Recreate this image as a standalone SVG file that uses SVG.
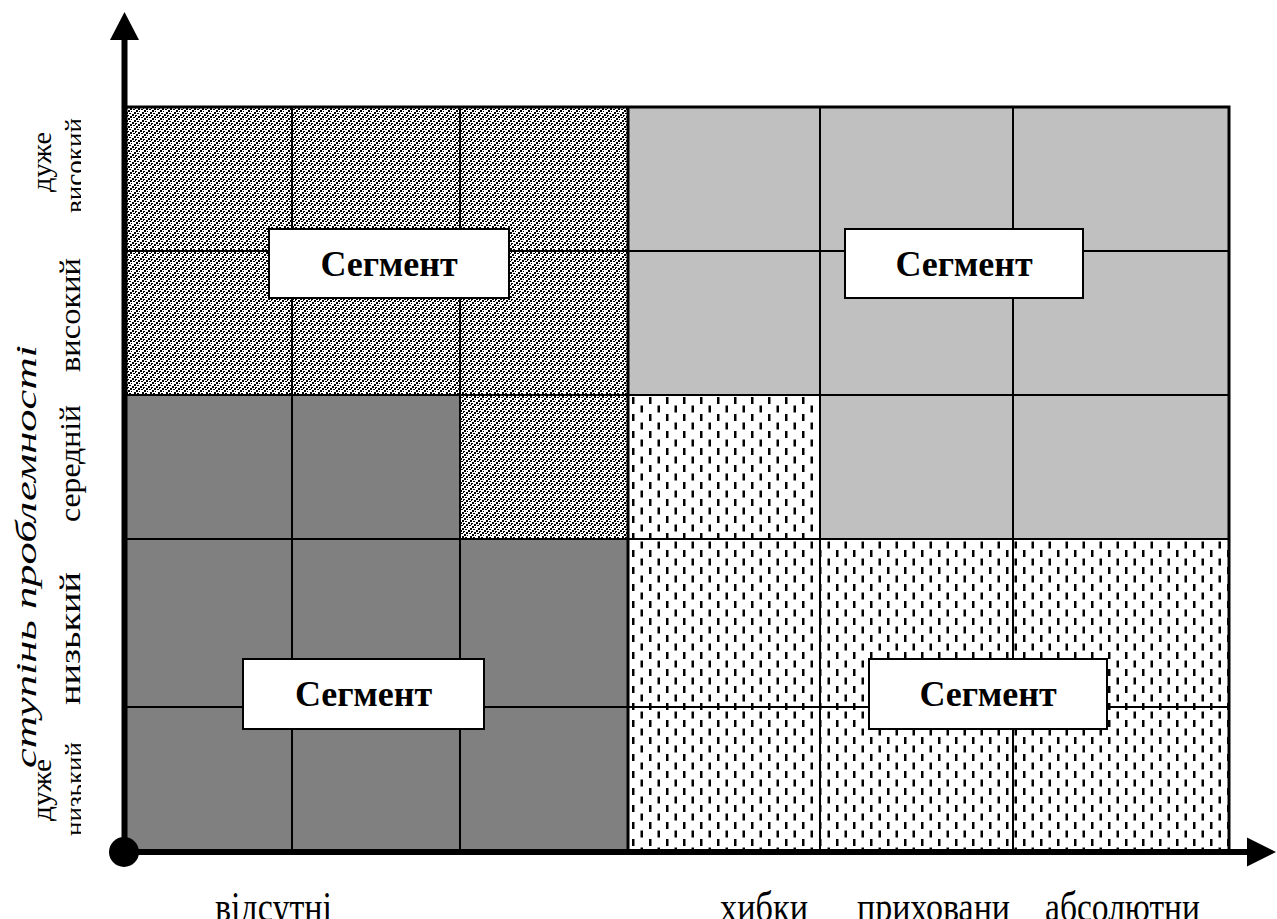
<svg xmlns="http://www.w3.org/2000/svg" width="1277" height="919" viewBox="0 0 1277 919">
<style>
.lbl{font-family:"Liberation Serif","Times New Roman",serif;font-size:28px;fill:#000}
.big{font-size:30px}
.xl{font-size:42px}
.ttl{font-family:"Liberation Serif","Times New Roman",serif;font-size:30px;font-style:italic;fill:#000}
.seg{font-family:"Liberation Serif","Times New Roman",serif;font-size:36px;font-weight:bold;fill:#000;text-anchor:middle}
.box{fill:#fff;stroke:#000;stroke-width:2}
.grid{stroke:#000;stroke-width:2;fill:none}
</style>
<defs>
<pattern id="zz" width="8" height="8" patternUnits="userSpaceOnUse">
<rect width="8" height="8" fill="#fff"/>
<g fill="#000" shape-rendering="crispEdges">
<rect x="6" y="0" width="2" height="2"/>
<rect x="4" y="2" width="2" height="2"/>
<rect x="2" y="4" width="2" height="2"/>
<rect x="0" y="6" width="2" height="2"/>
<rect x="1" y="1" width="2" height="1"/>
<rect x="7" y="3" width="1" height="2"/>
<rect x="0" y="3" width="1" height="1"/>
<rect x="5" y="5" width="2" height="1"/>
<rect x="3" y="7" width="1" height="1"/>
</g>
</pattern>
<pattern id="dots" width="17" height="17" patternUnits="userSpaceOnUse" x="628" y="395">
<rect width="17" height="17" fill="#fff"/>
<rect x="4" y="2" width="2.5" height="7" fill="#000"/>
<rect x="12.5" y="10.5" width="2.5" height="7" fill="#000"/>
<rect x="12.5" y="-6.5" width="2.5" height="7" fill="#000"/>
</pattern>
<clipPath id="clipL"><rect x="0" y="0" width="81" height="919"/></clipPath>
</defs>

<g id="regions">
<path id="zigzag-region" d="M124,107 H628 V539 H460 V395 H124 Z" fill="url(#zz)"/>
<path id="lightgray-region" d="M628,107 H1229 V539 H820 V395 H628 Z" fill="#C0C0C0"/>
<path id="darkgray-region" d="M124,395 H460 V539 H628 V852 H124 Z" fill="#808080"/>
<path id="dotted-region" d="M628,395 H820 V539 H1229 V852 H628 Z" fill="url(#dots)"/>
</g>

<g id="grid">
<line class="grid" x1="292" y1="107" x2="292" y2="852"/>
<line class="grid" x1="460" y1="107" x2="460" y2="852"/>
<line class="grid" x1="628" y1="107" x2="628" y2="852" style="stroke-width:3"/>
<line class="grid" x1="820" y1="107" x2="820" y2="852"/>
<line class="grid" x1="1013" y1="107" x2="1013" y2="852"/>
<line class="grid" x1="124" y1="251" x2="1229" y2="251"/>
<line class="grid" x1="124" y1="395" x2="1229" y2="395"/>
<line class="grid" x1="124" y1="539" x2="1229" y2="539"/>
<line class="grid" x1="124" y1="707" x2="1229" y2="707"/>
<rect class="grid" x="124" y="107" width="1105" height="745" style="stroke-width:3"/>
</g>

<g id="connectors">
<line x1="124.5" y1="38" x2="124.5" y2="852" stroke="#000" stroke-width="6"/>
<polygon points="124.5,12 110,40 139,40" fill="#000"/>
<line x1="124" y1="852" x2="1249" y2="852" stroke="#000" stroke-width="6"/>
<polygon points="1276,852 1247,837.5 1247,866.5" fill="#000"/>
<circle cx="124" cy="852" r="15" fill="#000"/>
</g>

<g id="seg-top-left">
<rect class="box" x="269" y="229" width="240" height="69"/>
<text class="seg" x="389" y="276">Сегмент</text>
</g>
<g id="seg-top-right">
<rect class="box" x="845" y="229" width="238" height="69"/>
<text class="seg" x="964" y="276">Сегмент</text>
</g>
<g id="seg-bottom-left">
<rect class="box" x="243" y="659" width="241" height="70"/>
<text class="seg" x="363.5" y="706">Сегмент</text>
</g>
<g id="seg-bottom-right">
<rect class="box" x="869" y="659" width="238" height="70"/>
<text class="seg" x="988" y="706">Сегмент</text>
</g>

<g id="y-labels">
<text class="ttl" transform="translate(36,768) rotate(-90)" textLength="423" lengthAdjust="spacingAndGlyphs">ступінь проблемності</text>
<text class="lbl" transform="translate(51,192) rotate(-90)" textLength="60" lengthAdjust="spacingAndGlyphs">дуже</text>
<g clip-path="url(#clipL)"><text class="lbl" transform="translate(84,213) rotate(-90)" textLength="95" lengthAdjust="spacingAndGlyphs">високий</text></g>
<text class="lbl big" transform="translate(80,372) rotate(-90)" textLength="114" lengthAdjust="spacingAndGlyphs">високий</text>
<text class="lbl big" transform="translate(80,522) rotate(-90)" textLength="117" lengthAdjust="spacingAndGlyphs">середній</text>
<text class="lbl big" transform="translate(80,705) rotate(-90)" textLength="133" lengthAdjust="spacingAndGlyphs">низький</text>
<text class="lbl" transform="translate(51,821) rotate(-90)" textLength="62" lengthAdjust="spacingAndGlyphs">дуже</text>
<g clip-path="url(#clipL)"><text class="lbl" transform="translate(84,836) rotate(-90)" textLength="94" lengthAdjust="spacingAndGlyphs">низький</text></g>
</g>

<g id="x-labels">
<text class="lbl xl" x="215" y="921" textLength="117" lengthAdjust="spacingAndGlyphs">відсутні</text>
<text class="lbl xl" x="720" y="921" textLength="88" lengthAdjust="spacingAndGlyphs">хибки</text>
<text class="lbl xl" x="857" y="921" textLength="153" lengthAdjust="spacingAndGlyphs">приховани</text>
<text class="lbl xl" x="1045" y="921" textLength="155" lengthAdjust="spacingAndGlyphs">абсолютни</text>
</g>
</svg>
